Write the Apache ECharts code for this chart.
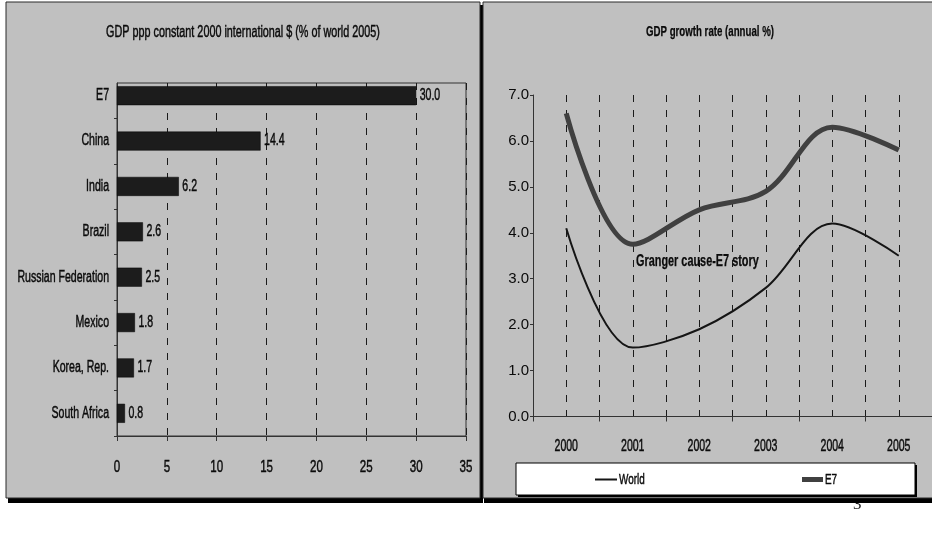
<!DOCTYPE html>
<html>
<head>
<meta charset="utf-8">
<title>E7 GDP</title>
<script src="https://cdn.jsdelivr.net/npm/echarts@6/dist/echarts.min.js"></script>
<style>
  html, body { margin: 0; padding: 0; background: #ffffff; }
  #chart { width: 932px; height: 548px; }
</style>
</head>
<body>
<div id="chart"></div>
<script>
// GDP share (% of world, 2005)
const countries = ['E7', 'China', 'India', 'Brazil', 'Russian Federation', 'Mexico', 'Korea, Rep.', 'South Africa'];
const gdpShare = [30.0, 14.4, 6.2, 2.6, 2.5, 1.8, 1.7, 0.8];
const shareTicks = [0, 5, 10, 15, 20, 25, 30, 35];

// GDP growth rate (annual %)
const years = ['2000', '2001', '2002', '2003', '2004', '2005'];
const worldGrowth = [4.1, 1.5, 1.9, 2.8, 4.2, 3.5];
const e7Growth = [6.6, 3.75, 4.5, 4.9, 6.3, 5.8];
const growthMin = 0, growthMax = 7, growthStep = 1;

const SANS = "'Liberation Sans', Arial, sans-serif";
const PANEL = '#c0c0c0';
const INK = '#0a0a0a';
const dashed = { type: [7, 8], color: '#1a1a1a', width: 1 };

// condensed text: regular face squeezed horizontally, lightly stroked for weight
function narrow(text, x, y, size, squeeze, align, weight) {
  return {
    type: 'text', x: x, y: y, scaleX: squeeze, z: 20,
    style: { text: text, font: (weight || 'normal') + ' ' + size + 'px ' + SANS, fill: INK,
      stroke: INK, lineWidth: weight === 'bold' ? 0.25 : 0.45, align: align, verticalAlign: 'middle' }
  };
}

const chart = echarts.init(document.getElementById('chart'), null, { renderer: 'canvas' });

chart.setOption({
  animation: false,
  backgroundColor: '#ffffff',
  grid: [
    { left: 117, top: 83, width: 349, height: 353, outerBoundsMode: 'none', containLabel: false,
      show: true, borderColor: '#333', borderWidth: 1, backgroundColor: 'transparent' },
    { left: 117, top: 73, width: 349, height: 363, outerBoundsMode: 'none', containLabel: false },
    { left: 533, top: 95, width: 399, height: 321.5, outerBoundsMode: 'none', containLabel: false }
  ],
  xAxis: [
    { gridIndex: 0, type: 'value', min: shareTicks[0], max: shareTicks[shareTicks.length - 1],
      interval: shareTicks[1] - shareTicks[0],
      axisLine: { show: true, lineStyle: { color: '#333', width: 1 } },
      axisTick: { show: true, length: 5, lineStyle: { color: '#333' } },
      axisLabel: { show: false },
      splitLine: { show: true, lineStyle: dashed } },
    { gridIndex: 1, type: 'value', min: shareTicks[0], max: shareTicks[shareTicks.length - 1], show: false },
    { gridIndex: 2, type: 'category', data: years, boundaryGap: true,
      axisLine: { show: true, lineStyle: { color: '#333', width: 1 } },
      axisTick: { show: true, length: 5, lineStyle: { color: '#333' } },
      axisLabel: { show: false },
      splitLine: { show: false } },
    // half-year dashed guides
    { gridIndex: 2, type: 'value', min: 0, max: 12, interval: 1, position: 'bottom',
      axisLine: { show: false }, axisTick: { show: false }, axisLabel: { show: false },
      splitLine: { show: true, lineStyle: dashed } }
  ],
  yAxis: [
    { gridIndex: 0, type: 'value', min: 0, max: 1,
      axisLine: { show: true, lineStyle: { color: '#333', width: 1 } },
      axisTick: { show: false }, axisLabel: { show: false }, splitLine: { show: false } },
    { gridIndex: 1, type: 'category', data: countries, inverse: true,
      axisLine: { show: false },
      axisTick: { show: true, length: 3, interval: i => i !== 0, lineStyle: { color: '#333' } },
      axisLabel: { show: false },
      splitLine: { show: false } },
    { gridIndex: 2, type: 'value', min: growthMin, max: growthMax, interval: growthStep,
      axisLine: { show: true, lineStyle: { color: '#333', width: 1 } },
      axisTick: { show: true, length: 3, lineStyle: { color: '#333' } },
      axisLabel: { margin: 4, fontFamily: SANS, fontSize: 15, color: INK,
        formatter: v => v.toFixed(1) },
      splitLine: { show: false } }
  ],
  series: [
    { name: 'GDP share', type: 'bar', xAxisIndex: 1, yAxisIndex: 1, data: gdpShare,
      barWidth: 19,
      itemStyle: { color: '#1c1c1c', borderColor: '#000', borderWidth: 0.5 } },
    { name: 'World', type: 'line', xAxisIndex: 2, yAxisIndex: 2, data: worldGrowth,
      smooth: 0.35, symbol: 'none',
      lineStyle: { color: '#151515', width: 2 } },
    { name: 'E7', type: 'line', xAxisIndex: 2, yAxisIndex: 2, data: e7Growth,
      smooth: 0.35, symbol: 'none',
      lineStyle: { color: '#404040', width: 5 } }
  ]
});

// ---- frame, legend and condensed labels ----
const graphics = [
  // page number behind the panels
  { type: 'text', x: 853, y: 496, z: -30,
    style: { text: '3', font: "17px 'Liberation Serif', serif", fill: '#222' } },
  // drop shadows
  { type: 'rect', z: -20, shape: { x: 8, y: 498, width: 924, height: 5 }, style: { fill: '#000' } },
  { type: 'rect', z: -20, shape: { x: 480, y: 5, width: 3, height: 498 }, style: { fill: '#000' } },
  { type: 'rect', z: -19, shape: { x: 483, y: 498, width: 1, height: 5 }, style: { fill: '#fff' } },
  // panels
  { type: 'rect', z: -15, shape: { x: 6, y: 2, width: 474, height: 496 },
    style: { fill: PANEL, stroke: '#2a2a2a', lineWidth: 1 } },
  { type: 'rect', z: -15, shape: { x: 483, y: 2, width: 452, height: 496 },
    style: { fill: PANEL, stroke: '#2a2a2a', lineWidth: 1 } },
  // legend box
  { type: 'rect', z: -5, shape: { x: 518, y: 465, width: 399, height: 32 }, style: { fill: '#000' } },
  { type: 'rect', z: -4, shape: { x: 516, y: 463, width: 399, height: 32 },
    style: { fill: '#ffffff', stroke: '#000', lineWidth: 1 } },
  { type: 'line', z: 5, shape: { x1: 595, y1: 479.5, x2: 617, y2: 479.5 },
    style: { stroke: '#151515', lineWidth: 2 } },
  narrow('World', 619, 479.5, 15, 0.66, 'left'),
  { type: 'line', z: 5, shape: { x1: 802, y1: 479.5, x2: 823, y2: 479.5 },
    style: { stroke: '#404040', lineWidth: 5 } },
  narrow('E7', 825, 479.5, 15, 0.66, 'left'),
  // titles and annotation
  narrow('GDP ppp constant 2000 international $ (% of world 2005)', 243, 33, 16, 0.675, 'center'),
  narrow('GDP growth rate (annual %)', 710, 32, 15, 0.645, 'center', 'bold'),
  narrow('Granger cause-E7 story', 636, 262, 16, 0.68, 'left', 'bold')
];

// left chart: category names, value labels, value ticks
const zeroX = chart.convertToPixel({ xAxisIndex: 1 }, 0);
const baseY = chart.convertToPixel({ yAxisIndex: 0 }, 0);
countries.forEach((name, i) => {
  const cy = chart.convertToPixel({ yAxisIndex: 1 }, i);
  graphics.push(narrow(name, zeroX - 8, cy, 16, 0.66, 'right'));
  const endX = chart.convertToPixel({ xAxisIndex: 1 }, gdpShare[i]);
  graphics.push(narrow(gdpShare[i].toFixed(1), endX + 3.5, cy, 16, 0.66, 'left'));
});
shareTicks.forEach(v => {
  const tx = chart.convertToPixel({ xAxisIndex: 0 }, v);
  graphics.push(narrow(String(v), tx, baseY + 31, 17, 0.68, 'center'));
});

// right chart: year labels
const growthBaseY = chart.convertToPixel({ yAxisIndex: 2 }, growthMin);
years.forEach((yr, i) => {
  const tx = chart.convertToPixel({ xAxisIndex: 2 }, i);
  graphics.push(narrow(yr, tx, growthBaseY + 30, 17, 0.62, 'center'));
});

chart.setOption({ graphic: graphics });
</script>
</body>
</html>
